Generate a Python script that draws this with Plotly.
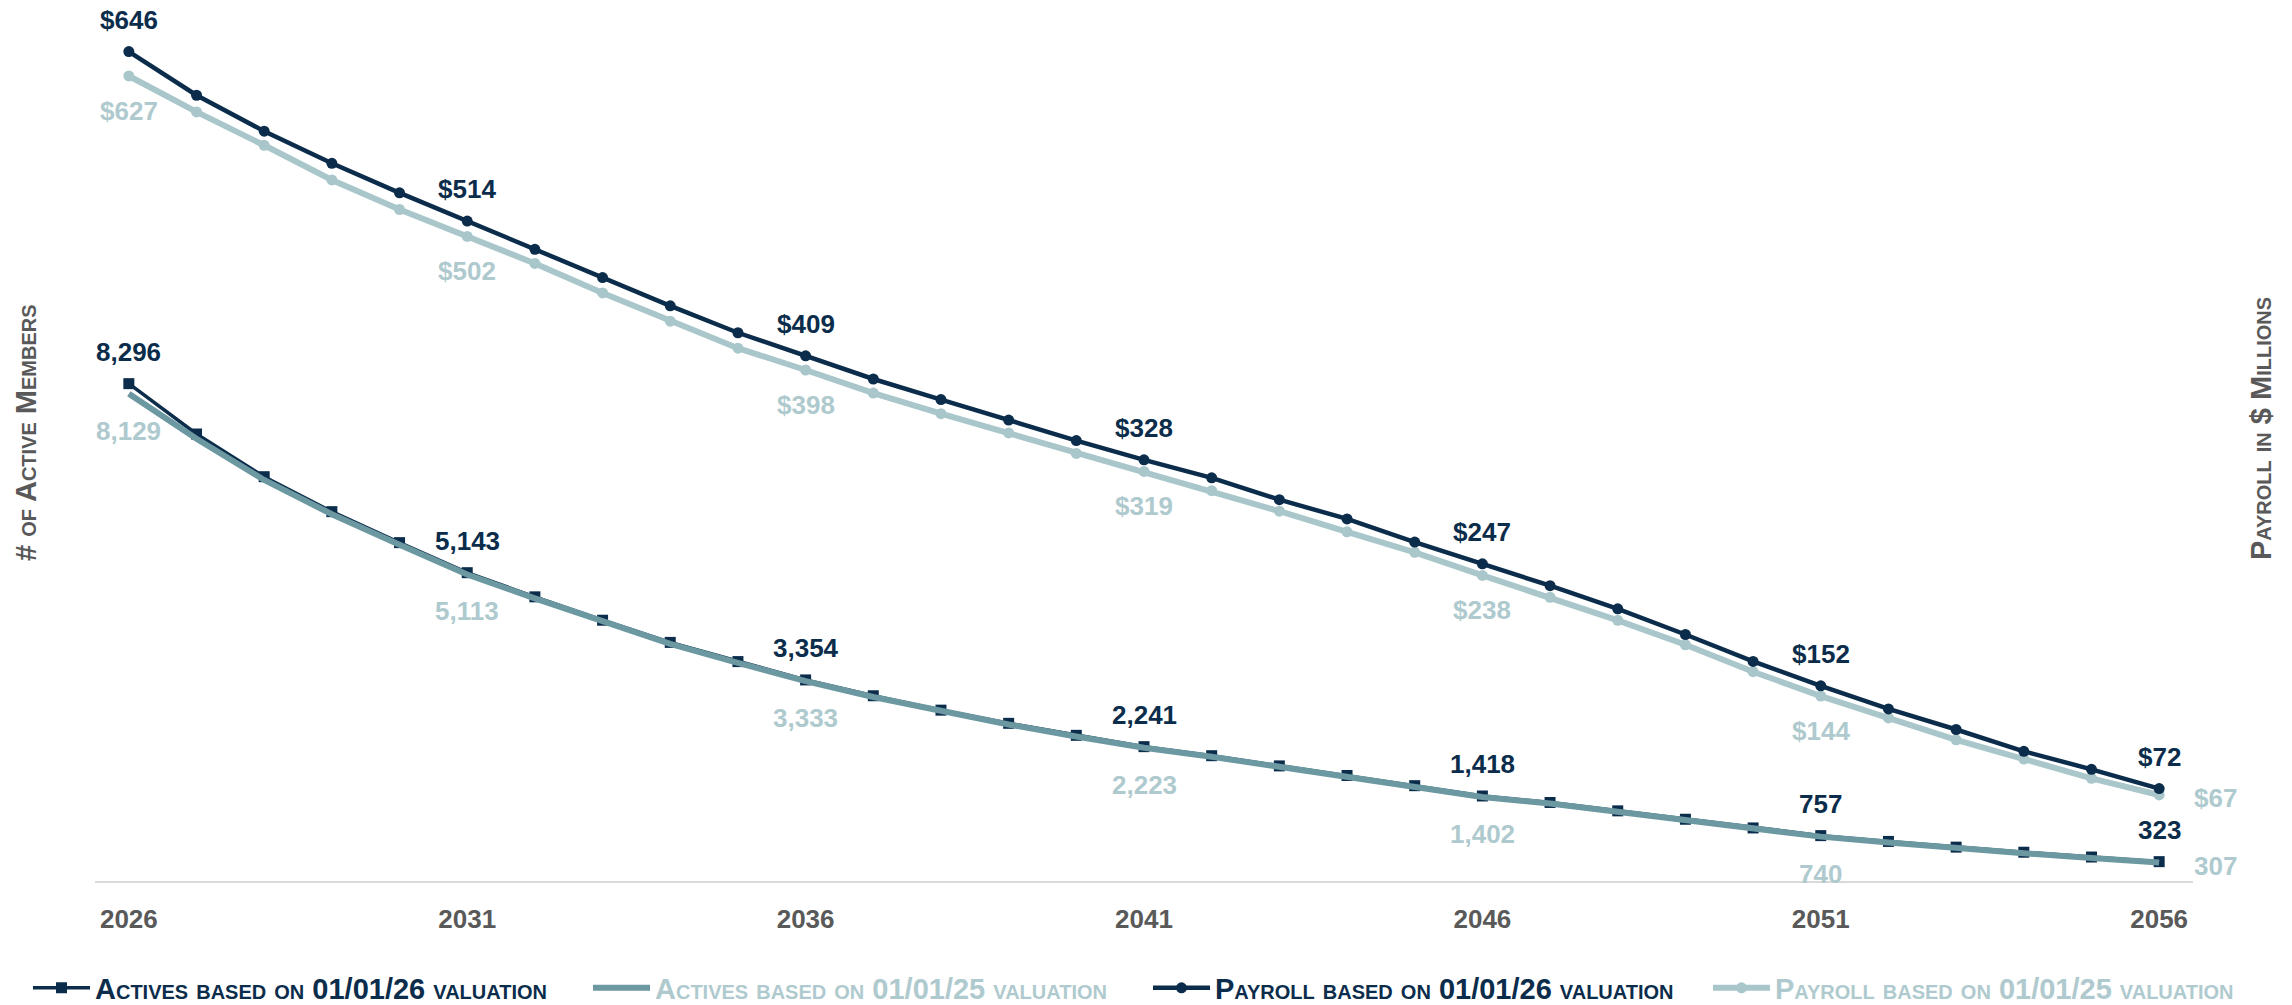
import plotly.graph_objects as go

years = [str(y) for y in range(2026, 2057)]

actives_26 = [8296, 7456, 6744, 6161, 5644, 5143, 4740, 4350, 3980, 3660, 3354,
              3090, 2850, 2630, 2430, 2241, 2090, 1920, 1760, 1590, 1418,
              1310, 1170, 1030, 885, 757, 660, 565, 480, 400, 323]
actives_25 = [8129, 7376, 6689, 6119, 5609, 5113, 4715, 4326, 3957, 3638, 3333,
              3070, 2831, 2611, 2411, 2223, 2073, 1903, 1743, 1574, 1402,
              1293, 1153, 1013, 868, 740, 643, 548, 464, 384, 307]
payroll_26 = [646, 612, 584, 559, 536, 514, 492, 470, 448, 427, 409,
              391, 375, 359, 343, 328, 314, 297, 282, 264, 247,
              230, 212, 192, 171, 152, 134, 118, 101, 87, 72]
payroll_25 = [627, 599, 573, 546, 523, 502, 481, 458, 436, 415, 398,
              380, 364, 349, 333, 319, 304, 288, 272, 256, 238,
              221, 203, 184, 163, 144, 127, 110, 95, 80, 67]

tick_years = ["2026", "2031", "2036", "2041", "2046", "2051", "2056"]
label_idx = [0, 5, 10, 15, 20, 25, 30]

NAVY = "#0B2D4B"
TEAL = "#6B98A1"
LIGHT = "#A9C7CA"
LIGHT_TXT = "#AFCACE"
GRAY = "#595959"
FONT = "Liberation Sans, Arial, sans-serif"

W, H = 2292, 1005
PL, PR, PT, PB = 95, 2193, 20, 881  # plot area in pixels

names = [
    ("Actives based on 01/01/26 valuation", NAVY),
    ("Actives based on 01/01/25 valuation", LIGHT_TXT),
    ("Payroll based on 01/01/26 valuation", NAVY),
    ("Payroll based on 01/01/25 valuation", LIGHT_TXT),
]

def nm(i):
    t, c = names[i]
    return f"<span style='color:{c}'>{t}</span>"

fig = go.Figure()
fig.add_trace(go.Scatter(x=years, y=actives_26, name=nm(0), mode="lines+markers",
                         line=dict(color=NAVY, width=3.5),
                         marker=dict(symbol="square", size=11, color=NAVY),
                         legendrank=1, yaxis="y"))
fig.add_trace(go.Scatter(x=years, y=actives_25, name=nm(1), mode="lines",
                         line=dict(color=TEAL, width=6),
                         legendrank=2, yaxis="y"))
fig.add_trace(go.Scatter(x=years, y=payroll_25, name=nm(3), mode="lines+markers",
                         line=dict(color=LIGHT, width=6),
                         marker=dict(symbol="circle", size=11, color=LIGHT),
                         legendrank=4, yaxis="y2"))
fig.add_trace(go.Scatter(x=years, y=payroll_26, name=nm(2), mode="lines+markers",
                         line=dict(color=NAVY, width=4.5),
                         marker=dict(symbol="circle", size=11, color=NAVY),
                         legendrank=3, yaxis="y2"))

ann = []
lab_font_dark = dict(family=FONT, size=26, color=NAVY, weight="bold")
lab_font_light = dict(family=FONT, size=26, color=LIGHT_TXT, weight="bold")
last = len(years) - 1
for i in label_idx:
    ann.append(dict(x=i, y=payroll_26[i], yref="y2", xref="x", text=f"${payroll_26[i]:,}",
                    showarrow=False, yshift=32, font=lab_font_dark))
    ann.append(dict(x=i, y=actives_26[i], yref="y", xref="x", text=f"{actives_26[i]:,}",
                    showarrow=False, yshift=32, font=lab_font_dark))
    if i == last:
        ann.append(dict(x=i, y=payroll_25[i], yref="y2", xref="x", text=f"${payroll_25[i]:,}",
                        showarrow=False, xanchor="left", xshift=33, yshift=-3, font=lab_font_light))
        ann.append(dict(x=i, y=actives_25[i], yref="y", xref="x", text=f"{actives_25[i]:,}",
                        showarrow=False, xanchor="left", xshift=33, yshift=-3, font=lab_font_light))
    else:
        ann.append(dict(x=i, y=payroll_25[i], yref="y2", xref="x", text=f"${payroll_25[i]:,}",
                        showarrow=False, yshift=-35, font=lab_font_light))
        ann.append(dict(x=i, y=actives_25[i], yref="y", xref="x", text=f"{actives_25[i]:,}",
                        showarrow=False, yshift=-37, font=lab_font_light))

title_font = dict(family=FONT, size=29, color=GRAY, weight="bold", variant="small-caps")
ann.append(dict(x=26 / W, y=(H - 433) / H, xref="paper", yref="paper", text="# of Active Members",
                textangle=-90, showarrow=False, xanchor="center", yanchor="middle", font=title_font))
ann.append(dict(x=2261 / W, y=(H - 429) / H, xref="paper", yref="paper", text="Payroll in $ Millions",
                textangle=-90, showarrow=False, xanchor="center", yanchor="middle", font=title_font))

fig.update_layout(
    width=W, height=H,
    margin=dict(l=0, r=0, t=0, b=0, autoexpand=False),
    paper_bgcolor="white", plot_bgcolor="white",
    font=dict(family=FONT, color=GRAY),
    showlegend=True,
    legend=dict(orientation="h", x=28 / W, y=(H - 988) / H, xanchor="left", yanchor="middle",
                entrywidth=488, entrywidthmode="pixels", itemwidth=57,
                font=dict(family=FONT, size=29, weight="bold", variant="small-caps", color=NAVY),
                traceorder="normal", bgcolor="rgba(0,0,0,0)"),
    xaxis=dict(type="category", range=[-0.5, 30.5], domain=[PL / W, PR / W],
               tickvals=tick_years, ticktext=tick_years,
               showgrid=False, zeroline=False, showline=True, linecolor="#D9D9D9", linewidth=2,
               ticks="", ticklabelstandoff=14,
               tickfont=dict(family=FONT, size=26, color=GRAY, weight="bold")),
    yaxis=dict(range=[0, 14362], domain=[(H - PB) / H, (H - PT) / H],
               showgrid=False, zeroline=False, showticklabels=False, showline=False),
    yaxis2=dict(range=[0, 670.6], overlaying="y", side="right", showgrid=False, zeroline=False,
                showticklabels=False, showline=False),
    annotations=ann,
)

fig.write_html("out.html")
